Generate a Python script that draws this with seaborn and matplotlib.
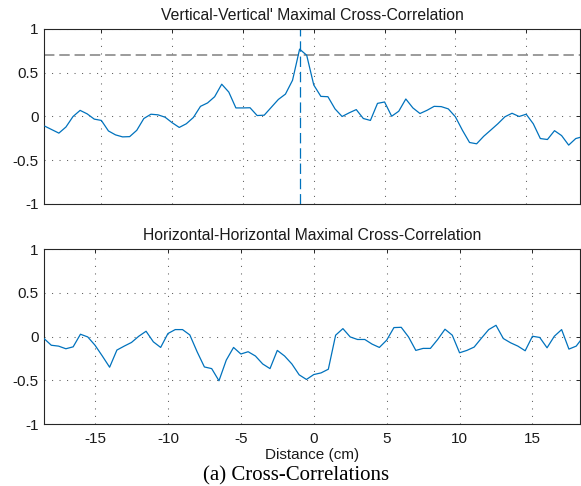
import numpy as np
import pandas as pd
import matplotlib
matplotlib.use("Agg")
import matplotlib.pyplot as plt
import seaborn as sns
from matplotlib.ticker import FixedLocator, FuncFormatter

# ---------------- data ----------------
dist_v = np.arange(-19.0, 19.01, 0.5)
corr_v = [-0.11, -0.15, -0.19, -0.12, 0.0, 0.07, 0.03, -0.03, -0.045, -0.165,
          -0.21, -0.233, -0.23, -0.158, -0.023, 0.026, 0.019, -0.008, -0.071, -0.125,
          -0.083, -0.011, 0.116, 0.155, 0.226, 0.369, 0.279, 0.098, 0.098, 0.10,
          0.011, 0.015, 0.105, 0.195, 0.256, 0.414, 0.77, 0.70, 0.36, 0.23,
          0.226, 0.087, 0.0, 0.042, 0.079, -0.023, -0.045, 0.15, 0.166, 0.003,
          0.06, 0.20, 0.098, 0.034, 0.071, 0.116, 0.113, 0.087, -0.003, -0.158,
          -0.297, -0.312, -0.226, -0.155, -0.083, -0.003, 0.037, 0.0, 0.026, -0.083,
          -0.252, -0.263, -0.162, -0.218, -0.327, -0.252, -0.23]

dist_h = np.arange(-18.5, 18.51, 0.5)
corr_h = [-0.023, -0.10, -0.11, -0.14, -0.118, 0.026, -0.005, -0.10, -0.223, -0.351,
          -0.155, -0.11, -0.068, 0.003, 0.06, -0.061, -0.125, 0.034, 0.079, 0.079,
          0.018, -0.174, -0.348, -0.367, -0.506, -0.27, -0.125, -0.20, -0.174, -0.223,
          -0.314, -0.367, -0.159, -0.223, -0.314, -0.438, -0.491, -0.435, -0.416, -0.374,
          0.015, 0.09, -0.005, -0.034, -0.034, -0.087, -0.125, -0.042, 0.102, 0.105,
          -0.005, -0.159, -0.136, -0.136, -0.034, 0.083, 0.015, -0.186, -0.159, -0.121,
          -0.019, 0.079, 0.128, -0.023, -0.072, -0.11, -0.163, 0.003, -0.011, -0.129,
          0.003, 0.079, -0.144, -0.11, 0.0]

peak_dist = -1.0
threshold = 0.7

x_ticks = [-15, -10, -5, 0, 5, 10, 15]
y_ticks = [-1, -0.5, 0, 0.5, 1]

title_v = "Vertical-Vertical' Maximal Cross-Correlation"
title_h = "Horizontal-Horizontal Maximal Cross-Correlation"
x_label = "Distance (cm)"
caption = "(a) Cross-Correlations"

# ---------------- style ----------------
sns.set_style("white")
plt.rcParams['font.family'] = ['Liberation Sans', 'DejaVu Sans']
plt.rcParams['axes.unicode_minus'] = False
plt.rcParams['lines.scale_dashes'] = False

W, H = 581, 486
fig = plt.figure(figsize=(W / 100, H / 100), dpi=100)

LINE = '#0072BD'
EDGE = '#262626'
TXT = '#1a1a1a'

def px_axes(left, top, right, bottom):
    return fig.add_axes([left / W, 1 - bottom / H, (right - left) / W, (bottom - top) / H])

ax1 = px_axes(44, 29, 580, 204)
ax2 = px_axes(44, 249, 580, 424)

df_v = pd.DataFrame({"Distance": dist_v, "Corr": corr_v})
df_h = pd.DataFrame({"Distance": dist_h, "Corr": corr_h})

sns.lineplot(data=df_v, x="Distance", y="Corr", ax=ax1, color=LINE, linewidth=0.9, zorder=3)
sns.lineplot(data=df_h, x="Distance", y="Corr", ax=ax2, color=LINE, linewidth=0.9, zorder=3)

ax1.axhline(threshold, color='#808080', linewidth=1.1, linestyle=(0, (7.5, 3.5)), zorder=2)
ax1.axvline(peak_dist, color=LINE, linewidth=0.9, linestyle=(0, (7.5, 3.5)), zorder=2)

fmt = FuncFormatter(lambda v, p: ('%g' % v))

for ax, xl in ((ax1, (-19.05, 18.8)), (ax2, (-18.5, 18.26))):
    ax.set_xlim(*xl)
    ax.set_ylim(-1, 1)
    ax.xaxis.set_major_locator(FixedLocator(x_ticks))
    ax.yaxis.set_major_locator(FixedLocator(y_ticks))
    ax.yaxis.set_major_formatter(fmt)
    ax.xaxis.set_major_formatter(fmt)
    ax.grid(True, color='#666666', linestyle=(0, (0.8, 4.6)), linewidth=0.75)
    ax.set_axisbelow(True)
    for s in ax.spines.values():
        s.set_visible(True)
        s.set_color(EDGE)
        s.set_linewidth(0.8)
    ax.tick_params(direction='in', length=3, width=0.7, color=EDGE,
                   top=True, right=True, labelsize=11, labelcolor=TXT)
    ax.tick_params(axis='y', pad=4)
    ax.tick_params(axis='x', pad=5.5)
    ax.set_xlabel("")
    ax.set_ylabel("")

ax1.tick_params(labelbottom=False)
ax1.set_title(title_v, fontsize=11.3, pad=6.5, color=TXT)
ax2.set_title(title_h, fontsize=11.3, pad=6.5, color=TXT)
ax2.set_xlabel(x_label, fontsize=11, labelpad=1.5, color=TXT)

fig.text(296 / W, 1 - 476 / H, caption, ha='center', va='center',
         fontsize=15, family=['Liberation Serif', 'DejaVu Serif'], color='black')

fig.savefig("out.png", dpi=100)
